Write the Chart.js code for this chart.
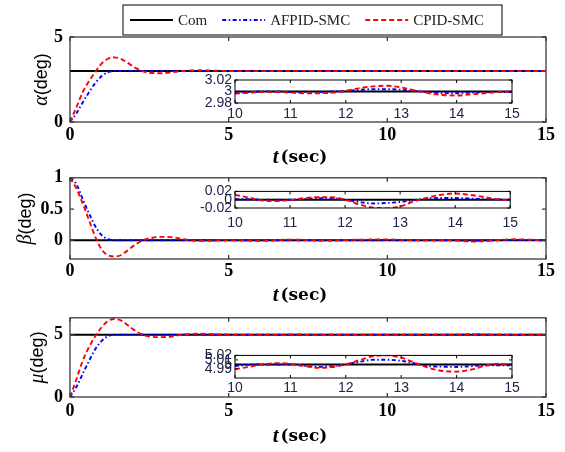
<!DOCTYPE html>
<html>
<head>
<meta charset="utf-8">
<script src="https://cdn.jsdelivr.net/npm/chart.js@4.4.0/dist/chart.umd.min.js"></script>
<style>
  html, body { margin: 0; padding: 0; background: #fff; }
  #wrap { position: relative; width: 565px; height: 452px; overflow: hidden; }
  canvas { position: absolute; left: 0; }
</style>
</head>
<body>
<div id="wrap">
  <canvas id="mainA" width="565" height="165" style="top:0px"></canvas>
  <canvas id="mainB" width="565" height="145" style="top:160px"></canvas>
  <canvas id="mainC" width="565" height="152" style="top:300px"></canvas>
  <canvas id="insetA" width="345" height="57" style="left:180px;top:68px"></canvas>
  <canvas id="insetB" width="345" height="54" style="left:180px;top:180px"></canvas>
  <canvas id="insetC" width="345" height="56" style="left:180px;top:344px"></canvas>
</div>
<script>
// ---- data ----
const tMain = [0, 0.2, 0.4, 0.6, 0.8, 1.0, 1.2, 1.4, 1.6, 1.8, 2.0, 2.3, 2.6, 2.9, 3.2, 3.5, 3.8, 4.1, 4.4, 4.7, 5, 6, 7, 8, 9, 10, 11, 12, 12.7, 13.3, 14, 15];

const alphaCom   = [3, 3, 3, 3, 3, 3, 3, 3, 3, 3, 3, 3, 3, 3, 3, 3, 3, 3, 3, 3, 3, 3, 3, 3, 3, 3, 3, 3, 3, 3, 3, 3];
const alphaAfpid = [0, 0.5, 1.15, 1.75, 2.3, 2.7, 2.93, 3.0, 3.0, 3.0, 3.0, 3.0, 3.0, 3.0, 3.0, 3.0, 3.0, 3.0, 3.0, 3.0, 3.0, 3.0, 3.0, 3.0, 3.0, 2.998, 2.999, 3.0, 3.004, 3.001, 2.997, 2.999];
const alphaCpid  = [0, 0.85, 1.75, 2.4, 2.95, 3.45, 3.72, 3.8, 3.72, 3.5, 3.25, 2.98, 2.88, 2.87, 2.92, 2.99, 3.03, 3.04, 3.03, 3.01, 3.0, 2.99, 3.01, 2.995, 3.005, 2.996, 2.998, 3.001, 3.01, 3.0, 2.993, 3.0];

const betaCom   = [0, 0, 0, 0, 0, 0, 0, 0, 0, 0, 0, 0, 0, 0, 0, 0, 0, 0, 0, 0, 0, 0, 0, 0, 0, 0, 0, 0, 0, 0, 0, 0];
const betaAfpid = [1, 0.9, 0.66, 0.43, 0.22, 0.08, 0.02, 0.0, 0, 0, 0, 0, 0, 0, 0, 0, 0, 0, 0, 0, 0, 0, 0, 0, 0, 0.0015, 0, 0, -0.008, 0, 0.004, 0];
const betaCpid  = [1, 0.83, 0.59, 0.32, 0.05, -0.15, -0.24, -0.26, -0.24, -0.17, -0.09, 0.0, 0.04, 0.055, 0.05, 0.025, 0.0, -0.01, -0.01, 0.0, 0.0, -0.008, 0.01, -0.006, 0.008, 0.012, -0.001, 0.0, -0.02, -0.004, 0.015, -0.002];

const muCom   = [5, 5, 5, 5, 5, 5, 5, 5, 5, 5, 5, 5, 5, 5, 5, 5, 5, 5, 5, 5, 5, 5, 5, 5, 5, 5, 5, 5, 5, 5, 5, 5];
const muAfpid = [0, 0.8, 1.85, 2.9, 3.85, 4.5, 4.88, 5.0, 5, 5, 5, 5, 5, 5, 5, 5, 5, 5, 5, 5, 5, 5, 5, 5, 5, 4.997, 4.996, 5.0, 5.009, 4.999, 4.995, 4.998];
const muCpid  = [0, 1.4, 2.9, 4.0, 4.9, 5.6, 6.1, 6.25, 6.15, 5.8, 5.4, 4.98, 4.82, 4.8, 4.85, 4.98, 5.05, 5.07, 5.05, 5.02, 5.0, 4.99, 5.01, 4.995, 5.005, 4.99, 5.001, 5.0, 5.02, 5.003, 4.984, 4.999];

const tInset = [10, 10.25, 10.5, 10.75, 11, 11.25, 11.5, 11.75, 12, 12.25, 12.5, 12.75, 13, 13.25, 13.5, 13.75, 14, 14.25, 14.5, 14.75, 15];

const alphaInCom   = [3, 3, 3, 3, 3, 3, 3, 3, 3, 3, 3, 3, 3, 3, 3, 3, 3, 3, 3, 3, 3];
const alphaInAfpid = [2.998, 2.999, 3, 3, 2.999, 2.999, 2.999, 3, 3.001, 3.003, 3.004, 3.004, 3.003, 3.001, 2.999, 2.997, 2.997, 2.998, 2.999, 2.999, 2.999];
const alphaInCpid  = [2.996, 2.998, 2.999, 2.999, 2.998, 2.997, 2.997, 2.998, 3.001, 3.006, 3.009, 3.01, 3.007, 3.002, 2.997, 2.994, 2.993, 2.995, 2.997, 2.999, 3.0];

const betaInCom   = [0, 0, 0, 0, 0, 0, 0, 0, 0, 0, 0, 0, 0, 0, 0, 0, 0, 0, 0, 0, 0];
const betaInAfpid = [0.0015, 0.001, 0, 0, 0, 0.002, 0.0035, 0.0035, 0, -0.0055, -0.009, -0.008, -0.0055, -0.001, 0.003, 0.004, 0.004, 0.003, 0.0015, 0.0005, 0];
const betaInCpid  = [0.0117, 0.005, -0.002, -0.0035, -0.001, 0.0035, 0.006, 0.006, 0, -0.011, -0.019, -0.021, -0.016, -0.004, 0.005, 0.012, 0.015, 0.012, 0.007, 0.0015, -0.002];

const muInCom   = [5, 5, 5, 5, 5, 5, 5, 5, 5, 5, 5, 5, 5, 5, 5, 5, 5, 5, 5, 5, 5];
const muInAfpid = [4.9966, 4.999, 5, 5, 5, 4.997, 4.9945, 4.996, 5, 5.006, 5.0103, 5.0103, 5.008, 5.002, 4.996, 4.995, 4.9945, 4.996, 4.998, 4.998, 4.998];
const muInCpid  = [4.9897, 4.9945, 5, 5.003, 5.0014, 4.9966, 4.9925, 4.994, 5, 5.0096, 5.0185, 5.0206, 5.015, 5.0034, 4.9925, 4.9856, 4.9842, 4.9883, 4.9966, 5.0014, 4.9993];

const mainXTicks  = [0, 5, 10, 15];
const alphaYTicks = [0, 5];
const betaYTicks  = [0, 0.5, 1];
const muYTicks    = [0, 5];
const insetXTicks = [10, 11, 12, 13, 14, 15];
const alphaInYTicks = [2.98, 3, 3.02];
const betaInYTicks  = [-0.02, 0, 0.02];
const muInYTicks    = [4.99, 5, 5.01, 5.02];

const names = ['CPID-SMC', 'AFPID-SMC', 'Com'];

// ---- drawing helpers ----
const pts = (ts, vs) => ts.map((t, i) => ({ x: t, y: vs[i] }));

function lines(ts, cpid, afpid, com) {
  return [
    { label: names[0], data: pts(ts, cpid), borderColor: '#ff0000', borderWidth: 1.9, borderDash: [5, 3] },
    { label: names[1], data: pts(ts, afpid), borderColor: '#0000ff', borderWidth: 1.9, borderDash: [4, 2.5, 1.5, 2.5] },
    { label: names[2], data: pts(ts, com), borderColor: '#000000', borderWidth: 2, borderDash: [] }
  ].map(d => Object.assign(d, { pointRadius: 0, fill: false, cubicInterpolationMode: 'monotone' }));
}

const frame = {
  id: 'frame',
  beforeDraw(chart, args, o) {
    if (!o.fill) return;
    const a = chart.chartArea, ctx = chart.ctx;
    ctx.save();
    ctx.fillStyle = o.fill;
    ctx.fillRect(a.left, a.top, a.right - a.left, a.bottom - a.top);
    ctx.restore();
  },
  afterDraw(chart, args, o) {
    const { ctx, chartArea: a, scales: { x, y } } = chart;
    ctx.save();
    ctx.strokeStyle = o.color;
    ctx.lineWidth = o.width || 1;
    ctx.setLineDash([]);
    ctx.strokeRect(a.left, a.top, a.right - a.left, a.bottom - a.top);
    ctx.beginPath();
    x.ticks.forEach(t => {
      const px = x.getPixelForValue(t.value);
      ctx.moveTo(px, a.bottom); ctx.lineTo(px, a.bottom - o.tick);
      ctx.moveTo(px, a.top); ctx.lineTo(px, a.top + o.tick);
    });
    y.ticks.forEach(t => {
      const py = y.getPixelForValue(t.value);
      ctx.moveTo(a.left, py); ctx.lineTo(a.left + o.tick, py);
      ctx.moveTo(a.right, py); ctx.lineTo(a.right - o.tick, py);
    });
    ctx.stroke();

    ctx.fillStyle = '#000';
    ctx.textBaseline = 'middle';
    ctx.textAlign = 'left';
    if (o.xTitle) {
      const f1 = 'italic bold 21px "Liberation Serif"', f2 = 'bold 17px "DejaVu Serif"';
      ctx.font = f1;
      const w1 = ctx.measureText('t').width;
      ctx.font = f2;
      const w2 = ctx.measureText('(sec)').width;
      const x0 = (a.left + a.right) / 2 - 9 - (w1 + w2) / 2;
      ctx.font = f1;
      ctx.fillText('t', x0, o.xTitle.y);
      ctx.font = f2;
      ctx.fillText('(sec)', x0 + w1 + 2, o.xTitle.y);
    }
    if (o.yTitle) {
      ctx.translate(o.yTitle.x, (a.top + a.bottom) / 2);
      ctx.rotate(-Math.PI / 2);
      ctx.font = 'italic 20px "Liberation Serif"';
      const w1 = ctx.measureText(o.yTitle.greek).width;
      ctx.font = '18px "Liberation Sans"';
      const w2 = ctx.measureText('(deg)').width;
      const x0 = -(w1 + w2) / 2;
      ctx.font = 'italic 20px "Liberation Serif"';
      ctx.fillText(o.yTitle.greek, x0, 0);
      ctx.font = '18px "Liberation Sans"';
      ctx.fillText('(deg)', x0 + w1, 0);
      ctx.setTransform(1, 0, 0, 1, 0, 0);
    }
    if (o.legend) {
      const L = o.legend;
      ctx.strokeStyle = '#000';
      ctx.lineWidth = 1;
      ctx.strokeRect(L.x, L.y, L.w, L.h);
      ctx.font = '15px "Liberation Serif"';
      let cx = L.x + 7;
      const cy = L.y + L.h / 2;
      [2, 1, 0].forEach(i => {
        const ds = chart.data.datasets[i];
        ctx.strokeStyle = ds.borderColor;
        ctx.lineWidth = 2;
        ctx.setLineDash(ds.borderDash);
        ctx.beginPath();
        ctx.moveTo(cx, cy); ctx.lineTo(cx + 43, cy);
        ctx.stroke();
        ctx.setLineDash([]);
        cx += 48;
        ctx.fillStyle = '#222';
        ctx.fillText(ds.label, cx, cy + 1);
        cx += ctx.measureText(ds.label).width + 15;
      });
    }
    ctx.restore();
  }
};

const mainFont = { family: 'Liberation Serif', size: 18, weight: 'bold' };
const insetFont = { family: 'Liberation Sans', size: 14 };

function mainChart(id, datasets, yMin, yMax, yTicks, pad, xHeight, xPad, extra) {
  return new Chart(document.getElementById(id), {
    type: 'line',
    data: { datasets: datasets },
    options: {
      responsive: false,
      animation: false,
      events: [],
      layout: { padding: { top: pad, right: 19, left: 0, bottom: 0 } },
      plugins: {
        legend: { display: false },
        tooltip: { enabled: false },
        frame: Object.assign({ color: '#3a3a3a', width: 1.3, tick: 4 }, extra)
      },
      scales: {
        x: {
          type: 'linear', min: 0, max: 15,
          grid: { display: false, drawTicks: false },
          border: { display: false },
          ticks: { font: mainFont, color: '#000', padding: xPad, maxRotation: 0, callback: v => String(v) },
          afterBuildTicks: s => { s.ticks = mainXTicks.map(v => ({ value: v })); },
          afterFit: s => { s.height = xHeight; }
        },
        y: {
          min: yMin, max: yMax,
          grid: { display: false, drawTicks: false },
          border: { display: false },
          ticks: { font: mainFont, color: '#000', padding: 7, callback: v => String(v) },
          afterBuildTicks: s => { s.ticks = yTicks.map(v => ({ value: v })); },
          afterFit: s => { s.width = 70; }
        }
      }
    },
    plugins: [frame]
  });
}

function insetChart(id, datasets, yMin, yMax, yTicks, pad, xHeight, xPad) {
  return new Chart(document.getElementById(id), {
    type: 'line',
    data: { datasets: datasets },
    options: {
      responsive: false,
      animation: false,
      events: [],
      layout: { padding: { top: pad, right: 13, left: 0, bottom: 0 } },
      plugins: {
        legend: { display: false },
        tooltip: { enabled: false },
        frame: { color: '#000', tick: 3, fill: '#ffffff' }
      },
      scales: {
        x: {
          type: 'linear', min: 10, max: 15,
          grid: { display: false, drawTicks: false },
          border: { display: false },
          ticks: { font: insetFont, color: '#23234d', padding: xPad, maxRotation: 0, autoSkip: false, callback: v => String(v) },
          afterBuildTicks: s => { s.ticks = insetXTicks.map(v => ({ value: v })); },
          afterFit: s => { s.height = xHeight; }
        },
        y: {
          min: yMin, max: yMax,
          grid: { display: false, drawTicks: false },
          border: { display: false },
          ticks: { font: insetFont, color: '#23234d', padding: 3, autoSkip: false, callback: v => String(v) },
          afterBuildTicks: s => { s.ticks = yTicks.map(v => ({ value: v })); },
          afterFit: s => { s.width = 55; }
        }
      }
    },
    plugins: [frame]
  });
}

mainChart('mainA', lines(tMain, alphaCpid, alphaAfpid, alphaCom), 0, 5, alphaYTicks, 37, 43, 3,
  { xTitle: { y: 158 }, yTitle: { x: 42, greek: 'α' }, legend: { x: 123, y: 5, w: 379, h: 30 } });
mainChart('mainB', lines(tMain, betaCpid, betaAfpid, betaCom), -0.3, 1, betaYTicks, 13, 46, 2,
  { xTitle: { y: 136 }, yTitle: { x: 26, greek: 'β' } });
mainChart('mainC', lines(tMain, muCpid, muAfpid, muCom), 0, 6.35, muYTicks, 12, 55, 4,
  { xTitle: { y: 137 }, yTitle: { x: 38, greek: 'μ' } });

insetChart('insetA', lines(tInset, alphaInCpid, alphaInAfpid, alphaInCom), 2.98, 3.02, alphaInYTicks, 12, 22, 3);
insetChart('insetB', lines(tInset, betaInCpid, betaInAfpid, betaInCom), -0.02, 0.02, betaInYTicks, 9, 26, 7);
insetChart('insetC', lines(tInset, muInCpid, muInAfpid, muInCom), 4.97, 5.02, muInYTicks, 10, 22, 2);
</script>
</body>
</html>
